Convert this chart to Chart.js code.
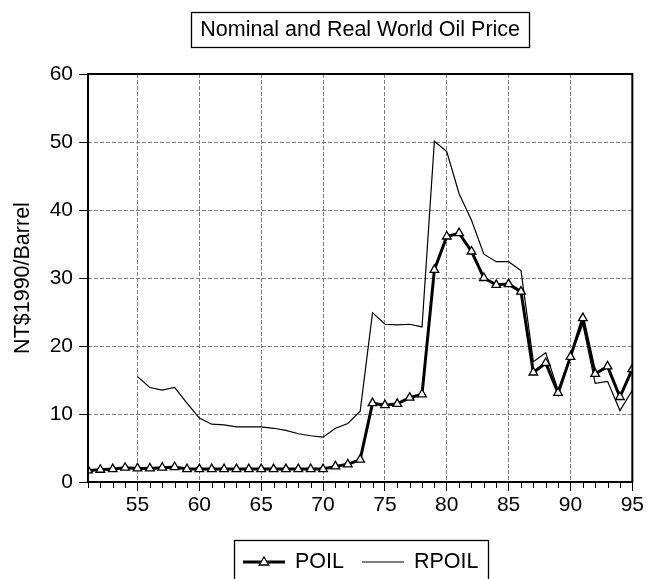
<!DOCTYPE html>
<html lang="en">
<head>
<meta charset="UTF-8" />
<title>Nominal and Real World Oil Price</title>
<script src="https://cdn.jsdelivr.net/npm/chart.js@4.4.1/dist/chart.umd.min.js"></script>
<style>
  html, body { margin: 0; padding: 0; background: #fff; }
  #wrap { width: 646px; height: 579px; }
</style>
</head>
<body>
<div id="wrap"><canvas id="chart"></canvas></div>
<script>
// chart text
const chartTitle = 'Nominal and Real World Oil Price';
const yTitle = 'NT$1990/Barrel';

// years (19xx)
const years = [51, 52, 53, 54, 55, 56, 57, 58, 59, 60,
               61, 62, 63, 64, 65, 66, 67, 68, 69, 70,
               71, 72, 73, 74, 75, 76, 77, 78, 79, 80,
               81, 82, 83, 84, 85, 86, 87, 88, 89, 90,
               91, 92, 93, 94, 95];

// nominal oil price
const poil = [1.7, 1.8, 1.9, 2.1, 2.0, 2.0, 2.1, 2.2, 1.9, 1.9,
              1.9, 1.9, 1.9, 1.9, 1.9, 1.9, 1.9, 1.9, 1.9, 1.9,
              2.3, 2.6, 3.3, 11.6, 11.3, 11.5, 12.4, 12.9, 31.2, 36.1,
              36.6, 33.9, 30.0, 29.0, 29.1, 28.0, 16.1, 17.5, 13.1, 18.4,
              24.1, 15.9, 17.0, 12.5, 16.6];

// real oil price (starts in 55)
const rpoil = [null, null, null, null, 15.5, 13.9, 13.5, 13.9, 11.6, 9.4,
               8.5, 8.4, 8.1, 8.1, 8.1, 7.9, 7.6, 7.1, 6.8, 6.6,
               7.9, 8.6, 10.4, 24.9, 23.2, 23.1, 23.2, 22.8, 50.1, 48.6,
               42.4, 38.5, 33.5, 32.4, 32.4, 31.1, 17.7, 19.0, 13.5, 18.5,
               23.2, 14.5, 14.8, 10.5, 13.5];

const yTicks = [0, 10, 20, 30, 40, 50, 60];

const FONT = "'Liberation Sans', Arial, sans-serif";
const gridGray = '#808080';
const isMajor = v => v % 5 === 0;

// frame, short year ticks, title box and legend box are drawn by hand
const boxes = {
    id: 'boxes',
    afterDatasetsDraw(chart) {
        const ctx = chart.ctx;
        const a = chart.chartArea;
        const xs = chart.scales.x;
        ctx.save();
        ctx.strokeStyle = '#000';
        ctx.lineWidth = 1;
        // minor ticks, every year
        years.forEach(v => {
            if (isMajor(v)) return;
            const px = Math.round(xs.getPixelForValue(v)) + 0.5;
            ctx.beginPath();
            ctx.moveTo(px, a.bottom);
            ctx.lineTo(px, a.bottom + 6);
            ctx.stroke();
        });
        ctx.lineWidth = 2;
        ctx.strokeRect(a.left, a.top, a.right - a.left, a.bottom - a.top);
        ctx.restore();
    },
    afterDraw(chart) {
        const ctx = chart.ctx;
        const a = chart.chartArea;
        const cx = (a.left + a.right) / 2;
        ctx.save();

        // title
        ctx.font = '21.5px ' + FONT;
        ctx.fillStyle = '#000';
        ctx.textAlign = 'center';
        ctx.textBaseline = 'middle';
        const tx = cx;
        ctx.fillText(chartTitle, tx, 30);
        const tw = ctx.measureText(chartTitle).width;
        ctx.strokeStyle = '#000';
        ctx.lineWidth = 1.3;
        ctx.strokeRect(Math.round(tx - tw / 2 - 9) + 0.5, 12.5, Math.round(tw + 18), 35);

        // legend
        ctx.font = '21.5px ' + FONT;
        ctx.textAlign = 'left';
        const ds = chart.data.datasets;
        const sample = 42, gapA = 10, gapB = 18, pad = 9;
        let total = pad * 2 + gapB * (ds.length - 1);
        ds.forEach(d => { total += sample + gapA + ctx.measureText(d.label).width; });
        let x = Math.round(cx - total / 2) + 1;
        const yMid = 562;
        ctx.lineWidth = 1.3;
        ctx.strokeRect(x + 0.5, 540.5, Math.round(total), 60);
        x += pad;
        ds.forEach(d => {
            ctx.beginPath();
            ctx.lineWidth = d.borderWidth;
            ctx.moveTo(x, yMid);
            ctx.lineTo(x + sample, yMid);
            ctx.stroke();
            if (d.pointStyle === 'triangle') {
                const r = d.pointRadius, px = x + sample / 2;
                ctx.beginPath();
                ctx.moveTo(px, yMid - r);
                ctx.lineTo(px + r * 0.95, yMid + r * 0.6);
                ctx.lineTo(px - r * 0.95, yMid + r * 0.6);
                ctx.closePath();
                ctx.fillStyle = '#fff';
                ctx.fill();
                ctx.lineWidth = d.pointBorderWidth;
                ctx.stroke();
                ctx.fillStyle = '#000';
            }
            ctx.fillText(d.label, x + sample + gapA, yMid);
            x += sample + gapA + ctx.measureText(d.label).width + gapB;
        });
        ctx.restore();
    }
};

const ctx = document.getElementById('chart').getContext('2d');

new Chart(ctx, {
    type: 'line',
    data: {
        datasets: [{
            label: 'POIL',
            data: years.map((yr, i) => ({ x: yr, y: poil[i] })),
            borderColor: '#000',
            borderWidth: 3,
            pointStyle: 'triangle',
            pointRadius: 5,
            pointBackgroundColor: '#fff',
            pointBorderColor: '#000',
            pointBorderWidth: 1.3,
            tension: 0,
            order: 0
        }, {
            label: 'RPOIL',
            data: years.map((yr, i) => ({ x: yr, y: rpoil[i] })),
            borderColor: '#000',
            borderWidth: 1.2,
            pointRadius: 0,
            tension: 0,
            order: 1
        }]
    },
    options: {
        responsive: true,
        maintainAspectRatio: false,
        animation: false,
        layout: { padding: { top: 74, right: 13, bottom: 0, left: 0 } },
        plugins: {
            legend: { display: false },
            title: { display: false },
            tooltip: { enabled: false }
        },
        scales: {
            x: {
                type: 'linear',
                min: years[0],
                max: years[years.length - 1],
                afterFit: s => { s.height = 97; },
                afterBuildTicks: s => { s.ticks = years.map(v => ({ value: v })); },
                ticks: {
                    autoSkip: false,
                    maxRotation: 0,
                    padding: 2,
                    color: '#000',
                    font: { family: FONT, size: 21 },
                    callback: v => (isMajor(v) ? String(v) : '')
                },
                grid: {
                    color: c => (c.tick && isMajor(c.tick.value) ? gridGray : 'rgba(0,0,0,0)'),
                    tickColor: c => (c.tick && isMajor(c.tick.value) ? '#000' : 'rgba(0,0,0,0)'),
                    tickLength: 9,
                    lineWidth: 1
                },
                border: { display: false, dash: [4, 2] }
            },
            y: {
                min: 0,
                max: 60,
                afterFit: s => { s.width = 88; },
                afterBuildTicks: s => { s.ticks = yTicks.map(v => ({ value: v })); },
                title: {
                    display: true,
                    text: yTitle,
                    color: '#000',
                    font: { family: FONT, size: 21.5 },
                    padding: { top: 10, bottom: 0 }
                },
                ticks: {
                    padding: 6,
                    color: '#000',
                    font: { family: FONT, size: 21 }
                },
                grid: {
                    color: c => (c.tick && c.tick.value > 0 && c.tick.value < 60 ? gridGray : 'rgba(0,0,0,0)'),
                    tickColor: '#000',
                    tickLength: 9,
                    lineWidth: 1
                },
                border: { display: false, dash: [4, 2] }
            }
        }
    },
    plugins: [boxes]
});
</script>
</body>
</html>
